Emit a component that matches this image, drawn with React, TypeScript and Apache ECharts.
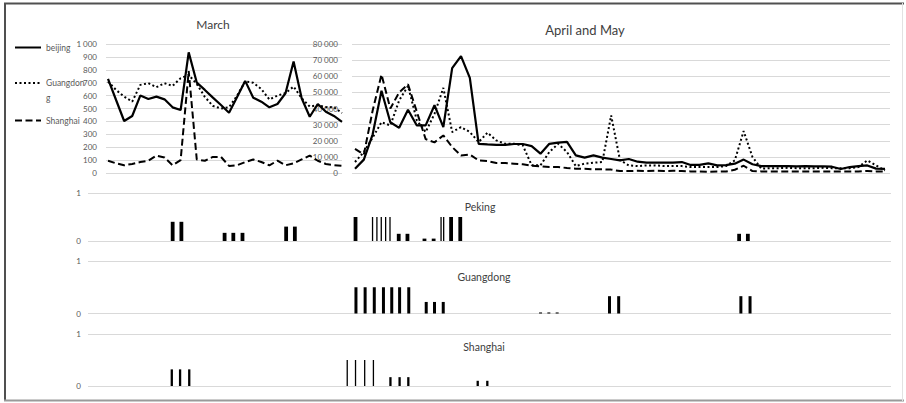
import React, { useEffect, useRef } from "react";
import * as echarts from "echarts";

// ---- March (daily, left axis 0–1 000)
const marchBeijing = [730, 566, 403, 442, 600, 574, 592, 571, 509, 488, 935, 701, 644, 584, 527, 467, 590, 714, 584, 553, 509, 535, 618, 865, 579, 436, 535, 475, 442, 397];
const marchGuangdong = [709, 644, 592, 553, 683, 696, 665, 696, 675, 735, 760, 690, 590, 520, 500, 510, 600, 710, 700, 650, 570, 600, 620, 670, 580, 515, 525, 510, 510, 465];
const marchShanghai = [95, 75, 60, 70, 85, 95, 135, 120, 60, 100, 790, 105, 95, 125, 125, 55, 60, 85, 105, 85, 60, 95, 60, 75, 105, 135, 95, 70, 60, 55];

// ---- April and May (daily, axis 0–80 000)
const aprBeijing = [2700, 8300, 24000, 51000, 31500, 28000, 39200, 29500, 29500, 42000, 28500, 65000, 72500, 59000, 18100, 17700, 17500, 17500, 18000, 18000, 16700, 12000, 18100, 18800, 19300, 10900, 9500, 10900, 9500, 8700, 7800, 8700, 7000, 6400, 6400, 6400, 6400, 6800, 5000, 5000, 6000, 4700, 4900, 5800, 8300, 5400, 4300, 4300, 4300, 4300, 4100, 4300, 4100, 4100, 3900, 2500, 3700, 4300, 4700, 2700, 2500];
const aprGuangdong = [6800, 13000, 22000, 31500, 29500, 45000, 54000, 32600, 25400, 36700, 52800, 25400, 28500, 25400, 19200, 25000, 20200, 18100, 18100, 17100, 4800, 4800, 13000, 18100, 13000, 4300, 5800, 6400, 6800, 35700, 8000, 4700, 4300, 4700, 4700, 4300, 4300, 4300, 3700, 3700, 3700, 3700, 4300, 7800, 26000, 9900, 2700, 3000, 3000, 3200, 3000, 3000, 3000, 3200, 3000, 3000, 3000, 3700, 7800, 4700, 1600];
const aprShanghai = [15000, 11500, 38800, 61000, 40000, 50000, 55000, 38000, 21000, 19000, 23300, 16100, 10900, 11500, 7800, 7400, 6200, 6200, 5800, 5400, 4500, 4100, 3700, 3700, 3100, 2700, 2700, 2300, 2300, 2100, 1200, 1200, 1400, 1200, 1400, 1200, 1400, 1200, 1000, 1000, 800, 900, 900, 2000, 4500, 1200, 1000, 1000, 1000, 1000, 1000, 1000, 1000, 1000, 1000, 1000, 1000, 1000, 1300, 1000, 900];

// ---- Event bars (x = day counted from 1 March, y = 0–1)
const pekingThickX = [9.7, 10.7, 15.65, 16.65, 17.7, 22.7, 23.7, 30.65, 35.6, 36.6, 38.55, 39.6, 41.6, 42.65, 74.6, 75.6];
const pekingThickY = [0.4, 0.4, 0.17, 0.17, 0.17, 0.3, 0.3, 0.5, 0.15, 0.15, 0.05, 0.05, 0.5, 0.5, 0.15, 0.15];
const pekingThinX = [32.6, 33.1, 33.6, 34.1, 34.6, 40.45, 40.75];
const pekingThinY = [0.5, 0.5, 0.5, 0.5, 0.5, 0.5, 0.5];
const guangdongX = [30.7, 31.75, 32.8, 33.85, 34.8, 35.7, 36.75, 38.75, 39.7, 40.7, 51.85, 52.8, 53.75, 59.75, 60.8, 74.8, 75.85];
const guangdongY = [0.5, 0.5, 0.5, 0.5, 0.5, 0.5, 0.5, 0.22, 0.22, 0.22, 0.02, 0.02, 0.02, 0.33, 0.33, 0.33, 0.33];
const shanghaiX = [9.6, 10.55, 11.6, 34.65, 35.7, 36.7, 44.65, 45.75];
const shanghaiY = [0.32, 0.32, 0.32, 0.17, 0.17, 0.17, 0.1, 0.1];
const shanghaiThinX = [29.7, 30.65, 31.7, 32.7];
const shanghaiThinY = [0.5, 0.5, 0.5, 0.5];

const seriesNames = ["beijing", "Guangdong", "Shanghai"];
const titles = ["March", "April and May", "Peking", "Guangdong", "Shanghai"];

const pairs = (arr: number[]) => arr.map((v, i) => [i, v]);
const zip = (xs: number[], ys: number[]) => xs.map((x, i) => [x, ys[i]]);
const fmt = (v: number) => String(v).replace(/\B(?=(\d{3})+(?!\d))/g, " ");

const LABEL = "#595959";
const GRID = "#d9d9d9";
const TITLE = "#404040";

const solid = { color: "#000", width: 2.2, type: "solid" };
const dotted = { color: "#000", width: 2, type: [2, 2.5] };
const dashed = { color: "#000", width: 2, type: [7, 3.5] };

export default function App() {
  const ref = useRef<HTMLDivElement>(null);
  useEffect(() => {
    document.body.style.margin = "0";
    const chart = echarts.init(ref.current!, null, { renderer: "svg" });
    const yBase = {
      axisLine: { show: false },
      axisTick: { show: false },
      splitLine: { lineStyle: { color: GRID, width: 1 } },
    };
    const legendBase = {
      orient: "vertical",
      left: 14,
      padding: 0,
      itemWidth: 26,
      itemHeight: 10,
      selectedMode: false,
      itemStyle: { opacity: 0 },
      textStyle: { fontSize: 8.5, color: LABEL },
    };
    const lineBase = { type: "line", symbol: "none", showSymbol: false };
    const option: any = {
      animation: false,
      textStyle: { fontFamily: "Lato, 'Open Sans', sans-serif" },
      title: [
        { text: titles[0], left: 213, top: 18, textAlign: "center", padding: 0, textStyle: { fontSize: 12, fontWeight: "normal", color: TITLE } },
        { text: titles[1], left: 585, top: 23, textAlign: "center", padding: 0, textStyle: { fontSize: 13, fontWeight: "normal", color: TITLE } },
        { text: titles[2], left: 480, top: 201, textAlign: "center", padding: 0, textStyle: { fontSize: 10.5, fontWeight: "normal", color: TITLE } },
        { text: titles[3], left: 484, top: 271, textAlign: "center", padding: 0, textStyle: { fontSize: 10.5, fontWeight: "normal", color: TITLE } },
        { text: titles[4], left: 484, top: 341, textAlign: "center", padding: 0, textStyle: { fontSize: 10.5, fontWeight: "normal", color: TITLE } },
      ],
      legend: [
        { ...legendBase, data: [seriesNames[0]], top: 43 },
        {
          ...legendBase,
          data: [seriesNames[1]],
          top: 60.5,
          formatter: () => "\nGuangdon\ng",
          textStyle: { fontSize: 8.5, color: LABEL, lineHeight: 15 },
        },
        { ...legendBase, data: [seriesNames[2]], top: 116 },
      ],
      grid: [
        { left: 106, right: 564, top: 44, height: 129 },
        { left: 352, right: 16, top: 44, height: 129 },
        { left: 88, right: 15, top: 193, height: 48 },
        { left: 88, right: 15, top: 261, height: 52.5 },
        { left: 88, right: 15, top: 334, height: 52 },
      ],
      xAxis: [
        { gridIndex: 0, type: "value", min: -0.25, max: 29, show: false },
        { gridIndex: 1, type: "value", min: -0.34, max: 60.57, show: false },
        { gridIndex: 2, type: "value", min: 0, max: 92, show: false },
        { gridIndex: 2, type: "value", min: 0, max: 92, show: false },
        { gridIndex: 3, type: "value", min: 0, max: 92, show: false },
        { gridIndex: 4, type: "value", min: 0, max: 92, show: false },
        { gridIndex: 4, type: "value", min: 0, max: 92, show: false },
      ],
      yAxis: [
        { gridIndex: 0, type: "value", min: 0, max: 1000, interval: 100, ...yBase, axisLabel: { fontSize: 8, color: LABEL, margin: 9, formatter: fmt } },
        { gridIndex: 1, type: "value", min: 0, max: 80000, interval: 10000, ...yBase, axisLabel: { fontSize: 8, color: LABEL, margin: 14, formatter: fmt } },
        { gridIndex: 2, type: "value", min: 0, max: 1, interval: 1, ...yBase, axisLabel: { fontSize: 8, color: LABEL, margin: 7 } },
        { gridIndex: 3, type: "value", min: 0, max: 1, interval: 1, ...yBase, axisLabel: { fontSize: 8, color: LABEL, margin: 7 } },
        { gridIndex: 4, type: "value", min: 0, max: 1, interval: 1, ...yBase, axisLabel: { fontSize: 8, color: LABEL, margin: 7 } },
      ],
      series: [
        { ...lineBase, name: seriesNames[0], xAxisIndex: 0, yAxisIndex: 0, data: pairs(marchBeijing), lineStyle: solid, itemStyle: { color: "#000" } },
        { ...lineBase, name: seriesNames[1], xAxisIndex: 0, yAxisIndex: 0, data: pairs(marchGuangdong), lineStyle: dotted, itemStyle: { color: "#000" } },
        { ...lineBase, name: seriesNames[2], xAxisIndex: 0, yAxisIndex: 0, data: pairs(marchShanghai), lineStyle: dashed, itemStyle: { color: "#000" } },
        { ...lineBase, name: seriesNames[0], xAxisIndex: 1, yAxisIndex: 1, data: pairs(aprBeijing), lineStyle: solid, itemStyle: { color: "#000" } },
        { ...lineBase, name: seriesNames[1], xAxisIndex: 1, yAxisIndex: 1, data: pairs(aprGuangdong), lineStyle: dotted, itemStyle: { color: "#000" } },
        { ...lineBase, name: seriesNames[2], xAxisIndex: 1, yAxisIndex: 1, data: pairs(aprShanghai), lineStyle: dashed, itemStyle: { color: "#000" } },
        { type: "bar", name: "Peking events", xAxisIndex: 2, yAxisIndex: 2, barWidth: 3.8, data: zip(pekingThickX, pekingThickY), itemStyle: { color: "#000" } },
        { type: "bar", name: "Peking events (half day)", xAxisIndex: 3, yAxisIndex: 2, barWidth: 1.3, data: zip(pekingThinX, pekingThinY), itemStyle: { color: "#000" } },
        { type: "bar", name: "Guangdong events", xAxisIndex: 4, yAxisIndex: 3, barWidth: 3, data: zip(guangdongX, guangdongY), itemStyle: { color: "#000" } },
        { type: "bar", name: "Shanghai events", xAxisIndex: 5, yAxisIndex: 4, barWidth: 2.3, data: zip(shanghaiX, shanghaiY), itemStyle: { color: "#000" } },
        { type: "bar", name: "Shanghai events (half day)", xAxisIndex: 6, yAxisIndex: 4, barWidth: 1.3, data: zip(shanghaiThinX, shanghaiThinY), itemStyle: { color: "#000" } },
      ],
      graphic: [
        { type: "line", shape: { x1: 4, y1: 3.5, x2: 904, y2: 3.5 }, style: { stroke: "#505050", lineWidth: 2 }, silent: true },
        { type: "line", shape: { x1: 5, y1: 3, x2: 5, y2: 401 }, style: { stroke: "#505050", lineWidth: 2 }, silent: true },
        { type: "line", shape: { x1: 4, y1: 400.5, x2: 904, y2: 400.5 }, style: { stroke: "#9a9a9a", lineWidth: 2 }, silent: true },
        { type: "line", shape: { x1: 902.5, y1: 3, x2: 902.5, y2: 401 }, style: { stroke: "#e2e2e2", lineWidth: 1 }, silent: true },
      ],
    };
    chart.setOption(option);
    return () => chart.dispose();
  }, []);
  return <div ref={ref} style={{ width: 906, height: 403 }} />;
}
